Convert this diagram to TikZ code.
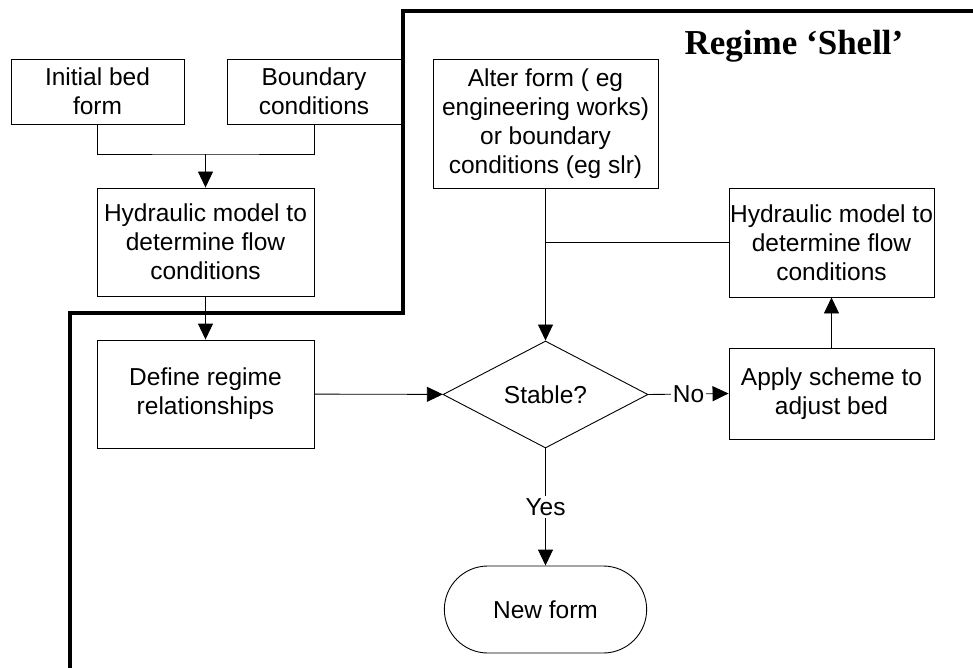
\documentclass[tikz,border=0pt]{standalone}
\usepackage{fontspec}
\setmainfont{Liberation Sans}
\newfontfamily\shellfont{Liberation Serif}
\usepackage{tikz}
\usetikzlibrary{shapes, arrows.meta, positioning, calc}
\tikzset{
    box/.style={rectangle, draw, line width=0.9pt, align=center, inner sep=0pt, font=\fontsize{24.5}{29}\selectfont},
    decision/.style={diamond, draw, line width=0.9pt, aspect=1.9, inner sep=0pt, minimum width=205pt, minimum height=107pt, font=\fontsize{24.5}{29}\selectfont},
    terminal/.style={rounded rectangle, draw, line width=0.9pt, minimum width=209pt, minimum height=87pt, font=\fontsize{24.5}{29}\selectfont},
    label/.style={fill=white, inner sep=2pt, font=\fontsize{24.5}{29}\selectfont},
    link/.style={line width=0.9pt},
    arrow/.style={link, -{Triangle[length=16pt, width=15pt]}},
    shell/.style={line width=4pt}
}

\begin{document}
\begin{tikzpicture}[x=1pt, y=-1pt]
    \useasboundingbox (0,0) rectangle (973,668);

    % left column
    \node[box, minimum width=173pt, minimum height=65pt] (init) at (97.5,91.5) {Initial bed\\form};
    \node[box, minimum width=174pt, minimum height=65pt] (bound) at (314,91.5) {Boundary\\conditions};
    \node[box, minimum width=217pt, minimum height=108pt] (hydl) at (205.5,242) {Hydraulic model to\\determine flow\\conditions};
    \node[box, minimum width=217pt, minimum height=108pt] (define) at (205.5,394) {Define regime\\relationships};

    % middle and right
    \node[box, minimum width=225pt, minimum height=129pt] (alter) at (545.5,123.5) {Alter form ( eg\\engineering works)\\or boundary\\conditions (eg slr)};
    \node[decision] (stable) at (545.5,394.5) {Stable?};
    \node[terminal] (newform) at (545.5,609.5) {New form};
    \node[box, minimum width=205pt, minimum height=109pt] (hydr) at (831.5,242.5) {Hydraulic model to\\determine flow\\conditions};
    \node[box, minimum width=205pt, minimum height=91pt] (apply) at (831.5,393.5) {Apply scheme to\\adjust bed};

    \node[font=\shellfont\bfseries\fontsize{35}{40}\selectfont] (title) at (794,46) {Regime ‘Shell’};

    \coordinate (merge) at (205.5,154);
    \draw[link] (init.south) |- (merge) -| (bound.south);
    \draw[arrow] (merge) -- (hydl.north);
    \draw[arrow] (hydl) -- (define);
    \draw[arrow] (define) -- (stable);
    \draw[arrow] (stable.east) -- node[label] {No} (apply.west);
    \draw[arrow] (stable.south) -- node[label] {Yes} (newform.north);
    \draw[arrow] (apply) -- (hydr);
    \draw[arrow] (alter) -- (stable);
    \draw[link] (hydr.west) -- (hydr.west -| alter.south);

    % shell boundary
    \draw[shell] (973,11) -- (403,11) -- (403,313) -- (70,313) -- (70,668);
\end{tikzpicture}
\end{document}
